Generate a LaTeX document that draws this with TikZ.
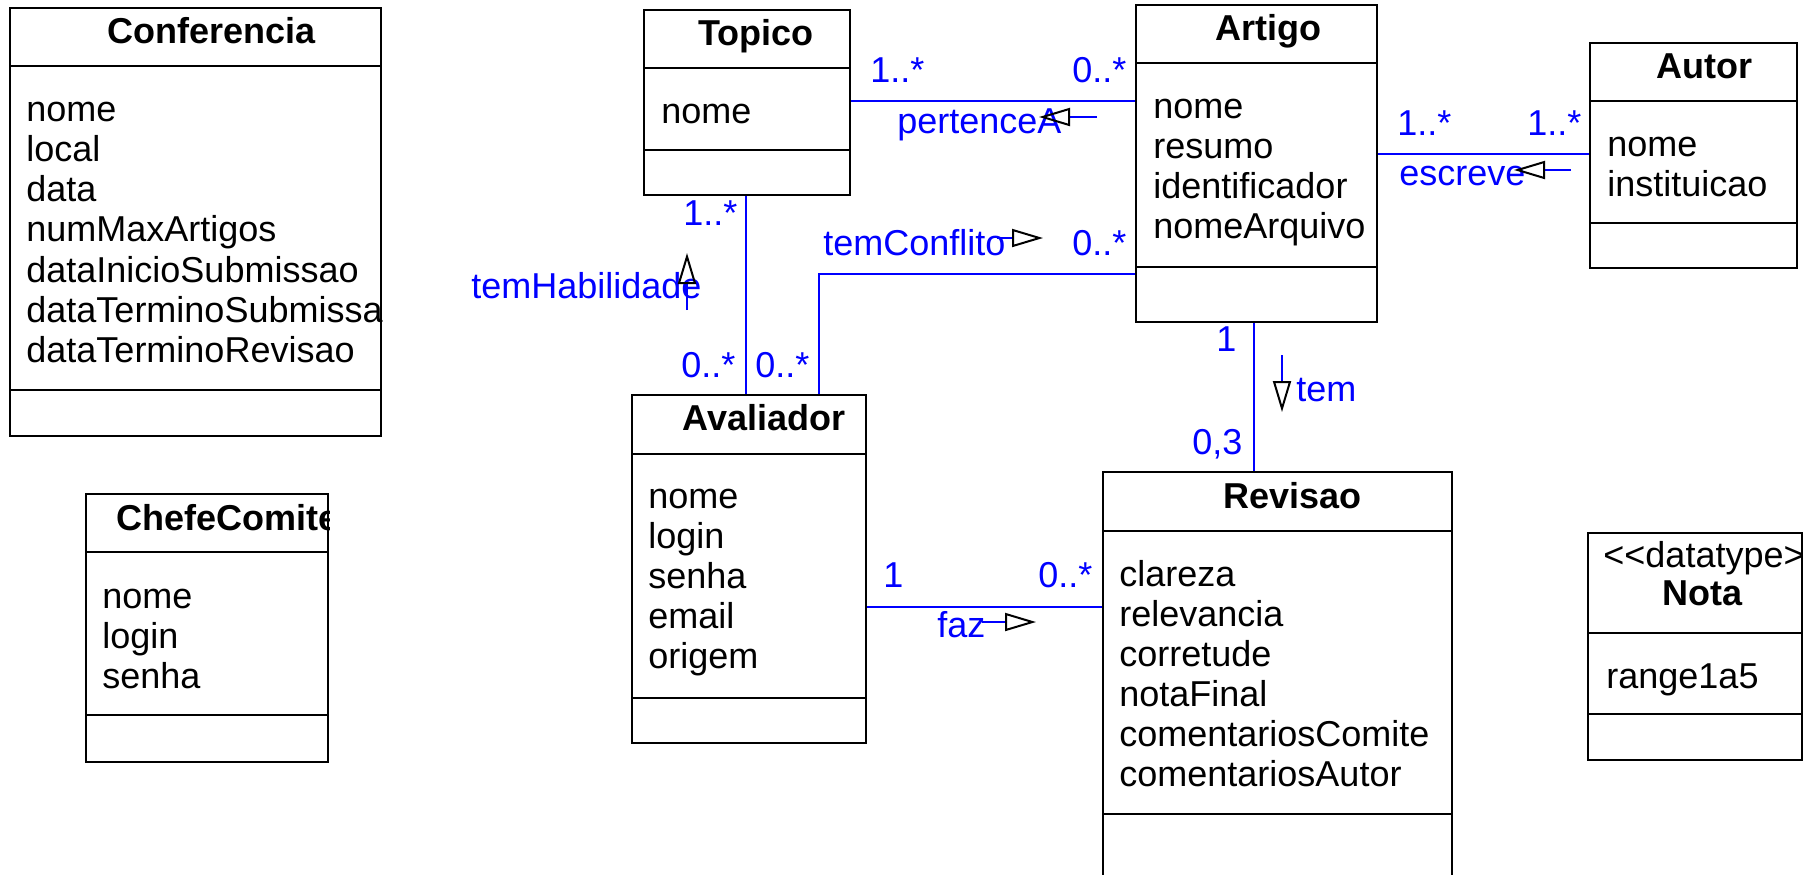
\documentclass[tikz,border=0pt]{standalone}
\usepackage{fontspec}
\setmainfont{Liberation Sans}
\usetikzlibrary{fit,arrows.meta}
\tikzset{
  umlbox/.style={draw=black, line width=1pt, inner sep=0pt},
  sepline/.style={draw=black, line width=1pt},
  ttl/.style={anchor=base west, inner sep=0pt, font=\fontsize{18}{20}\selectfont\bfseries},
  attr/.style={anchor=base west, inner sep=0pt, font=\fontsize{18}{20}\selectfont},
  lbl/.style={anchor=base west, inner sep=0pt, text=blue, font=\fontsize{18}{20}\selectfont},
  assoc/.style={draw=blue, line width=1pt},
  navdir/.style={draw=blue, line width=1pt, -{Triangle[open, length=15.5pt, width=9pt, color=black]}},
}
\begin{document}
\begin{tikzpicture}[x=0.5pt,y=-0.5pt]
\useasboundingbox (0,0) rectangle (1814,874);

% ---------- boxes ----------
\node[umlbox, fit={(10,8)(381,436)}] (conf) {};
\node[umlbox, fit={(644,10)(850,195)}] (topico) {};
\node[umlbox, fit={(1136,5)(1377,322)}] (artigo) {};
\node[umlbox, fit={(1590,43)(1797,268)}] (autor) {};
\node[umlbox, fit={(632,395)(866,743)}] (aval) {};
\node[umlbox, fit={(1103,472)(1452,885)}] (revisao) {};
\node[umlbox, fit={(86,494)(328,762)}] (chefe) {};
\node[umlbox, fit={(1588,533)(1802,760)}] (nota) {};

% ---------- compartments ----------
\draw[sepline] (conf.west |- 0,66) -- (conf.east |- 0,66);
\draw[sepline] (conf.west |- 0,390) -- (conf.east |- 0,390);
\draw[sepline] (topico.west |- 0,68) -- (topico.east |- 0,68);
\draw[sepline] (topico.west |- 0,150) -- (topico.east |- 0,150);
\draw[sepline] (artigo.west |- 0,63) -- (artigo.east |- 0,63);
\draw[sepline] (artigo.west |- 0,267) -- (artigo.east |- 0,267);
\draw[sepline] (autor.west |- 0,101) -- (autor.east |- 0,101);
\draw[sepline] (autor.west |- 0,223) -- (autor.east |- 0,223);
\draw[sepline] (aval.west |- 0,454) -- (aval.east |- 0,454);
\draw[sepline] (aval.west |- 0,698) -- (aval.east |- 0,698);
\draw[sepline] (revisao.west |- 0,531) -- (revisao.east |- 0,531);
\draw[sepline] (revisao.west |- 0,814) -- (revisao.east |- 0,814);
\draw[sepline] (chefe.west |- 0,552) -- (chefe.east |- 0,552);
\draw[sepline] (chefe.west |- 0,715) -- (chefe.east |- 0,715);
\draw[sepline] (nota.west |- 0,633) -- (nota.east |- 0,633);
\draw[sepline] (nota.west |- 0,714) -- (nota.east |- 0,714);

% ---------- texts ----------
\begin{scope}
  \clip (conf.south west) rectangle (conf.north east);
  \node[ttl] (conf-t) at (107,43) {Conferencia};
  \foreach \t [count=\i] in {nome,local,data,numMaxArtigos,dataInicioSubmissao,dataTerminoSubmissao,dataTerminoRevisao}
    \node[attr] (conf-a\i) at (26,{121+40.3*(\i-1)}) {\t};
\end{scope}

\node[ttl] (topico-t) at (698,45) {Topico};
\node[attr] (topico-a1) at (661,123) {nome};

\node[ttl] (artigo-t) at (1215,40) {Artigo};
\foreach \t [count=\i] in {nome,resumo,identificador,nomeArquivo}
  \node[attr] (artigo-a\i) at (1153,{118+40*(\i-1)}) {\t};

\node[ttl] (autor-t) at (1656,78) {Autor};
\foreach \t [count=\i] in {nome,instituicao}
  \node[attr] (autor-a\i) at (1607,{156+40.5*(\i-1)}) {\t};

\node[ttl] (aval-t) at (682,430) {Avaliador};
\foreach \t [count=\i] in {nome,login,senha,email,origem}
  \node[attr] (aval-a\i) at (648,{508+40*(\i-1)}) {\t};

\node[ttl] (revisao-t) at (1223,508) {Revisao};
\foreach \t [count=\i] in {clareza,relevancia,corretude,notaFinal,comentariosComite,comentariosAutor}
  \node[attr] (revisao-a\i) at (1119,{586+40*(\i-1)}) {\t};

\begin{scope}
  \clip (chefe.south west) rectangle (chefe.north east);
  \node[ttl] (chefe-t) at (116,530) {ChefeComite};
  \foreach \t [count=\i] in {nome,login,senha}
    \node[attr] (chefe-a\i) at (102,{608+40*(\i-1)}) {\t};
\end{scope}

\begin{scope}
  \clip (nota.south west) rectangle (nota.north east);
  \node[attr] (nota-s) at (1603,567) {<\kern0pt<datatype>\kern0pt>};
  \node[ttl] (nota-t) at (1662,605) {Nota};
  \node[attr] (nota-a1) at (1606,688) {range1a5};
\end{scope}

% ---------- associations ----------
\draw[assoc] (topico.east |- 0,101) -- (artigo.west |- 0,101);
\draw[assoc] (topico.south -| 746,0) -- (aval.north -| 746,0);
\draw[assoc] (aval.north -| 819,0) |- (artigo.west |- 0,274);
\draw[assoc] (aval.east |- 0,607) -- (revisao.west |- 0,607);
\draw[assoc] (artigo.east |- 0,154) -- (autor.west |- 0,154);
\draw[assoc] (artigo.south -| 1254,0) -- (revisao.north -| 1254,0);

% ---------- association labels ----------
\node[lbl] (m1) at (870,82) {1..*};
\node[lbl] (m2) at (1072,82) {0..*};
\node[lbl] (n1) at (897,133) {pertenceA};
\node[lbl] (m3) at (683,225) {1..*};
\node[lbl] (m4) at (681,377) {0..*};
\node[lbl] (m5) at (755,377) {0..*};
\node[lbl] (n2) at (471,298) {temHabilidade};
\node[lbl] (n3) at (823,255) {temConflito};
\node[lbl] (m6) at (1072,255) {0..*};
\node[lbl] (m7) at (883,587) {1};
\node[lbl] (m8) at (1038,587) {0..*};
\node[lbl] (n4) at (937,637) {faz};
\node[lbl] (m9) at (1397,135) {1..*};
\node[lbl] (m10) at (1527,135) {1..*};
\node[lbl] (n5) at (1399,185) {escreve};
\node[lbl] (m11) at (1216,351) {1};
\node[lbl] (m12) at (1192,454) {0,3};
\node[lbl] (n6) at (1296,401) {tem};

% ---------- reading-direction arrows ----------
\coordinate (d1a) at (1097,117); \coordinate (d1b) at (1039,117);
\coordinate (d2a) at (687,310);  \coordinate (d2b) at (687,253);
\coordinate (d3a) at (997,238);  \coordinate (d3b) at (1043,238);
\coordinate (d4a) at (982,622);  \coordinate (d4b) at (1036,622);
\coordinate (d5a) at (1571,170); \coordinate (d5b) at (1514,170);
\coordinate (d6a) at (1282,355); \coordinate (d6b) at (1282,412);
\draw[navdir] (d1a) -- (d1b);
\draw[navdir] (d2a) -- (d2b);
\draw[navdir] (d3a) -- (d3b);
\draw[navdir] (d4a) -- (d4b);
\draw[navdir] (d5a) -- (d5b);
\draw[navdir] (d6a) -- (d6b);
\end{tikzpicture}
\end{document}
